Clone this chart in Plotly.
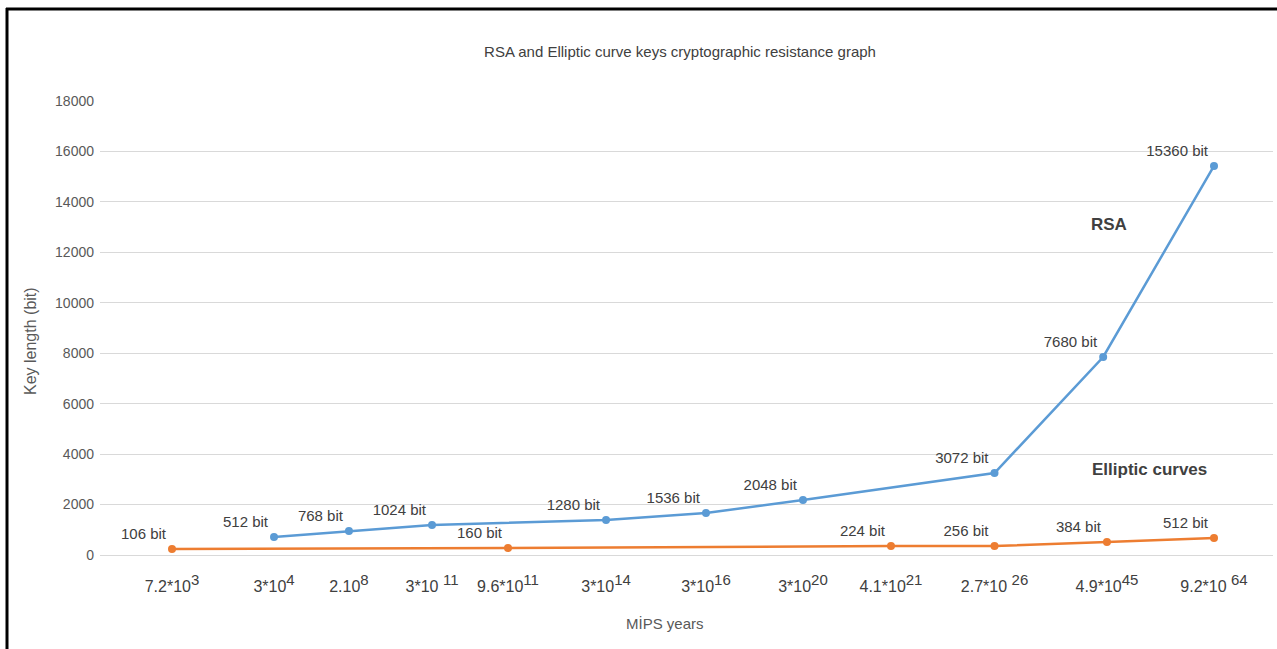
import plotly.graph_objects as go

# ---- data ----
tick_pos = [0, 1.077, 1.868, 2.745, 3.547, 4.582, 5.637, 6.661, 7.590, 8.683, 9.870, 11]
tick_base = ["7.2*10", "3*10", "2.10", "3*10 ", "9.6*10", "3*10", "3*10", "3*10",
             "4.1*10", "2.7*10 ", "4.9*10", "9.2*10 "]
tick_exp = ["3", "4", "8", "11", "11", "14", "16", "20", "21", "26", "45", "64"]

rsa_x = [1.077, 1.868, 2.745, 4.582, 5.637, 6.661, 8.683, 9.830, 11]
rsa_y = [714, 951, 1190, 1388, 1665, 2180, 3251, 7851, 15424]
rsa_labels = ["512 bit", "768 bit", "1024 bit", "1280 bit", "1536 bit", "2048 bit",
              "3072 bit", "7680 bit", "15360 bit"]

ec_x = [0, 3.547, 7.590, 8.683, 9.870, 11]
ec_y = [238, 278, 357, 357, 515, 674]
ec_labels = ["106 bit", "160 bit", "224 bit", "256 bit", "384 bit", "512 bit"]

W, H = 1277, 649
ML, MR, MT, MB = 100, 4, 101, 94
PW, PH = W - ML - MR, H - MT - MB

def px_x(p):
    return (p - ML) / PW

def px_y(p):
    return (H - MB - p) / PH

FONT = "Liberation Sans, Arial"
label_font = dict(family=FONT, size=15, color="#404040")

tick_text = [f"{b}<sup><span style='font-size:15px'>{e}</span></sup>" for b, e in zip(tick_base, tick_exp)]

fig = go.Figure()
fig.add_trace(go.Scatter(
    x=rsa_x, y=rsa_y, mode="lines+markers+text", text=rsa_labels,
    textposition="top left", textfont=label_font,
    line=dict(color="#5B9BD5", width=2.5), marker=dict(color="#5B9BD5", size=8),
    name="RSA", cliponaxis=False))
fig.add_trace(go.Scatter(
    x=ec_x, y=ec_y, mode="lines+markers+text", text=ec_labels,
    textposition="top left", textfont=label_font,
    line=dict(color="#ED7D31", width=2.5), marker=dict(color="#ED7D31", size=8),
    name="Elliptic curves", cliponaxis=False))

fig.update_layout(
    width=W, height=H,
    margin=dict(l=ML, r=MR, t=MT, b=MB),
    paper_bgcolor="white", plot_bgcolor="white",
    showlegend=False,
    font=dict(family=FONT, color="#595959"),
    title=dict(text="RSA and Elliptic curve keys cryptographic resistance graph",
               xref="container", yref="container",
               x=680 / W, xanchor="center", y=(H - 52) / H, yanchor="middle",
               font=dict(size=15, color="#404040", family=FONT)),
)

x0 = -(172 - ML) / ((1214 - 172) / 11)
x1 = 11 + (ML + PW - 1214) / ((1214 - 172) / 11)
fig.update_xaxes(
    range=[x0, x1], tickmode="array", tickvals=tick_pos, ticktext=tick_text,
    showgrid=False, zeroline=False, showline=False, ticks="",
    ticklabelstandoff=20,
    tickfont=dict(size=16, color="#404040"))
fig.update_yaxes(
    range=[0, 18000], tickmode="array", tickvals=list(range(0, 18001, 2000)),
    tickformat="d",
    showgrid=True, gridcolor="#D9D9D9", gridwidth=1, zeroline=True, zerolinecolor="#D9D9D9",
    zerolinewidth=1, showline=False, ticks="", ticklabelstandoff=5,
    tickfont=dict(size=14, color="#595959"))

def note(text, xp, yp, size, color, angle=0):
    fig.add_annotation(text=text, xref="paper", yref="paper", x=px_x(xp), y=px_y(yp),
                       xanchor="center", yanchor="middle", showarrow=False, textangle=angle,
                       font=dict(size=size, color=color, family=FONT))

note("MİPS years", 665, 623, 15, "#595959")
note("Key length (bit)", 30, 341, 16, "#595959", angle=-90)
note("<b>RSA</b>", 1109, 224, 17, "#404040")
note("<b>Elliptic curves</b>", 1149, 469, 17, "#404040")

# frame lines (top and left)
fig.add_shape(type="line", xref="paper", yref="paper", x0=px_x(6), x1=px_x(W), y0=px_y(9), y1=px_y(9),
              line=dict(color="black", width=3))
fig.add_shape(type="line", xref="paper", yref="paper", x0=px_x(7), x1=px_x(7), y0=px_y(8), y1=px_y(H),
              line=dict(color="black", width=3))

fig.write_html("out.html", config={"displayModeBar": False},
               post_script="document.body.style.margin='0';document.body.style.overflow='hidden';")
